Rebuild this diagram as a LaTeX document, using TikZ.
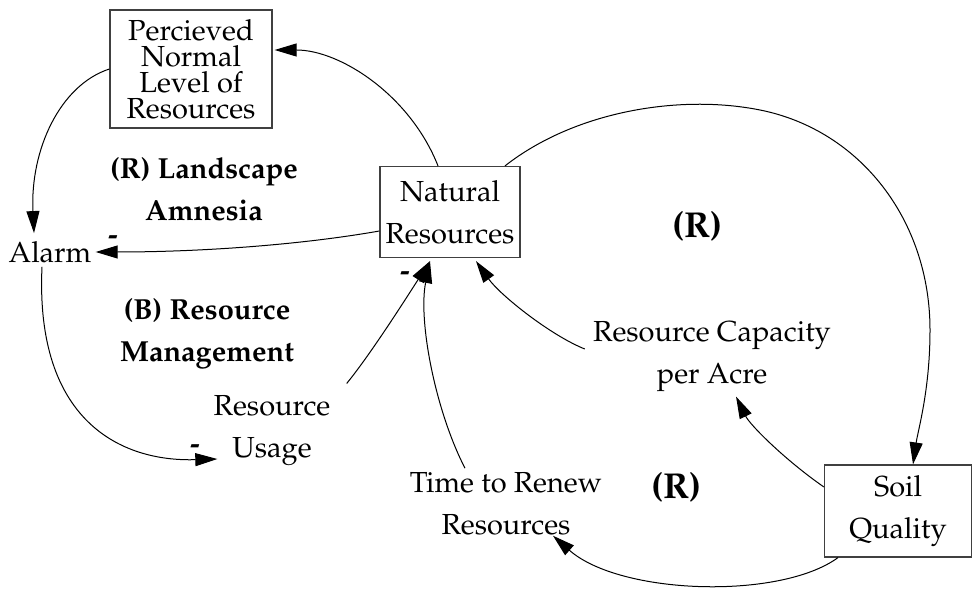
\documentclass[tikz,border=0pt]{standalone}
\usepackage[T1]{fontenc}
\usepackage{mathpazo}
\usepackage{tikz}
\usetikzlibrary{calc}
\usetikzlibrary{arrows.meta}

\tikzset{
  stock/.style={draw=black!75, line width=0.6pt, align=center, inner sep=2pt, font=\fontsize{14.5}{21}\selectfont},
  var/.style={align=center, inner sep=2pt, font=\fontsize{14.5}{21}\selectfont},
  looplabel/.style={align=center, font=\fontsize{14.5}{21}\selectfont\bfseries},
  bigloop/.style={font=\fontsize{18}{22}\selectfont\bfseries},
  sign/.style={font=\fontsize{14.5}{21}\selectfont\bfseries, inner sep=0pt},
  link/.style={line width=0.5pt, -{Triangle[length=11pt,width=6.5pt]}},
}

\begin{document}
\begin{tikzpicture}[x=0.5pt,y=-0.5pt]
    \useasboundingbox (0,0) rectangle (973,592);

    \node[stock, minimum width=81pt, minimum height=59pt, font=\fontsize{14.5}{13}\selectfont] (pnl) at (191,69) {Percieved\\Normal\\Level of\\Resources};
    \node[stock, minimum width=70pt, minimum height=45.5pt] (nr) at (450,212) {Natural\\Resources};
    \node[stock, minimum width=73.5pt, minimum height=46pt] (soil) at (898,511) {Soil\\Quality};
    \node[var] (alarm) at (50,252) {Alarm};
    \node[var] (usage) at (272,431) {Resource\\Usage};
    \node[var] (cap) at (712,357) {Resource Capacity\\per Acre};
    \node[var] (time) at (506,504) {Time to Renew\\Resources};

    \node[looplabel] (amnesia) at (204,189) {(R) Landscape\\Amnesia};
    \node[looplabel] (mgmt) at (207,334) {(B) Resource\\Management};
    \node[bigloop] (loopsoil) at (697,226) {(R)};
    \node[bigloop] (looprenew) at (676,487) {(R)};

    \node[sign] (signalarm) at (113,240) {-};
    \node[sign] (signnr) at (405,276) {-};
    \node[sign] (signusage) at (195,449) {-};

    \draw[link] ($(nr.north)+(-12,0)$) .. controls (410,95) and (340,50) .. ($(pnl.east)+(2,-19)$);
    \draw[link] (pnl.west) .. controls (60,85) and (30,150) .. ($(alarm.north)+(-16,-4)$);
    \draw[link] ($(nr.west)+(0,19)$) .. controls (300,245) and (200,252) .. (alarm.east);
    \draw[link] ($(alarm.south)+(-8,0)$) .. controls (35,420) and (120,462) .. ($(usage.west)+(8,28)$);
    \draw[link] ($(usage.north east)+(12,-8)$) .. controls (370,355) and (405,300) .. ($(nr.south)+(-20,3)$);
    \draw[link] ($(time.north)+(-41,0)$) .. controls (435,410) and (418,320) .. ($(nr.south)+(-20,3)$);
    \draw[link] ($(cap.west)+(-4,-8)$) .. controls (550,335) and (500,295) .. ($(nr.south)+(26,3)$);
    \draw[link] ($(nr.north)+(55,0)$) .. controls (575,111) and (680,94) .. (760,110)
        .. controls (860,130) and (930,220) .. (930,330)
        .. controls (930,390) and (918,430) .. ($(soil.north)+(15,0)$);
    \draw[link] ($(soil.west)+(0,-24)$) .. controls (785,460) and (750,425) .. ($(cap.south)+(24,0)$);
    \draw[link] ($(soil.south)+(-60,0)$) .. controls (780,600) and (620,595) .. ($(time.south)+(47,-4)$);
\end{tikzpicture}
\end{document}
